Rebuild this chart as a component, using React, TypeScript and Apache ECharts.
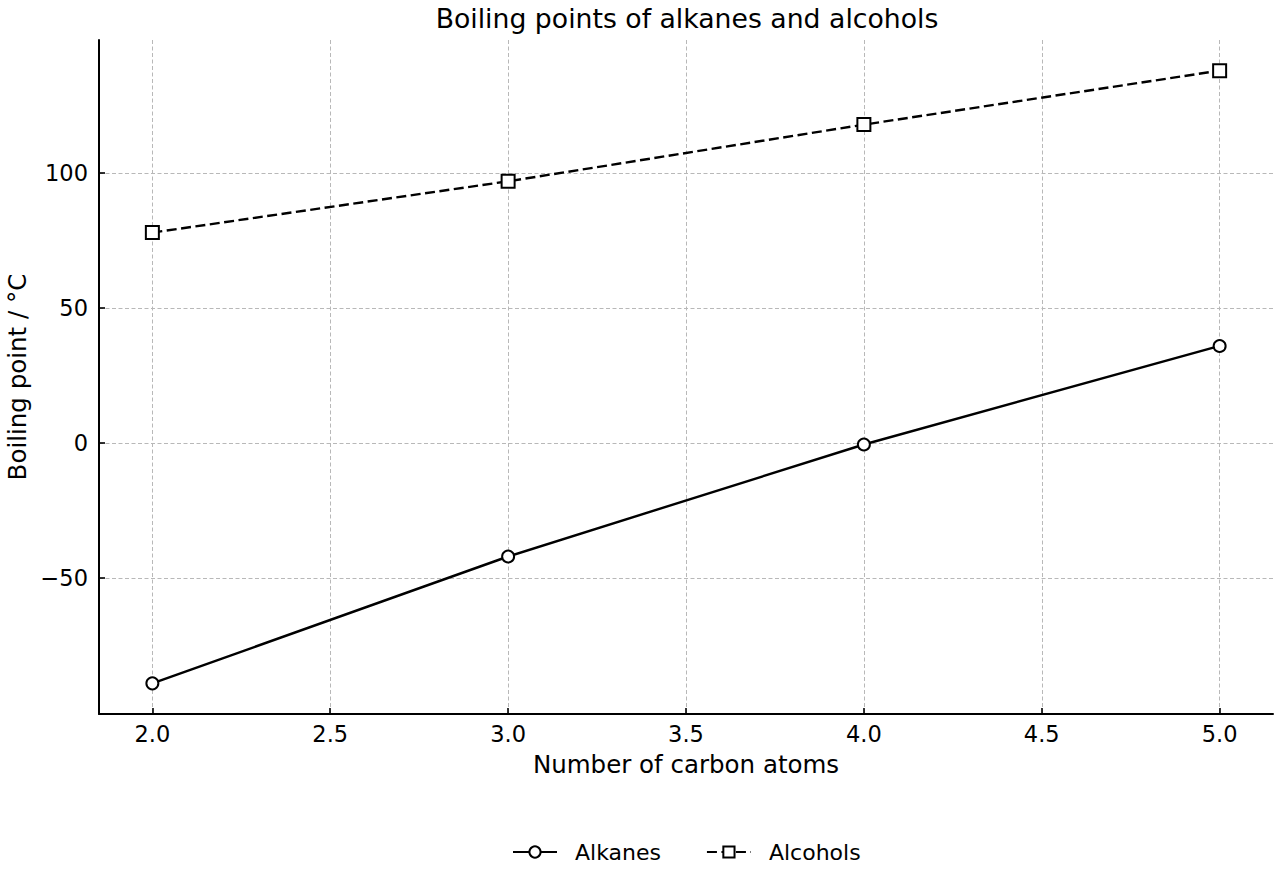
import React, { useEffect, useRef } from "react";
import * as echarts from "echarts";

const carbonAtoms = [2, 3, 4, 5];
const alkanes = [-89, -42, -0.5, 36];
const alcohols = [78, 97, 118, 138];
const xTicks = [2.0, 2.5, 3.0, 3.5, 4.0, 4.5, 5.0];
const yTicks = [-50, 0, 50, 100];

const FONT = "DejaVu Sans";

export default function App() {
  const ref = useRef<HTMLDivElement>(null);
  useEffect(() => {
    if (!ref.current) return;
    const chart = echarts.init(ref.current, null, { renderer: "svg" });
    const axisCommon = {
      axisLine: { show: true, onZero: false, lineStyle: { color: "#000", width: 2 } },
      axisTick: { show: true, inside: true, length: 6, lineStyle: { color: "#000", width: 1.6 } },
      splitLine: { show: true, lineStyle: { color: "#b8b8b8", type: [4, 2.5], width: 1 } },
      nameTextStyle: { fontFamily: FONT, fontSize: 24.5, color: "#000" },
    };
    chart.setOption({
      animation: false,
      backgroundColor: "#fff",
      title: {
        text: "Boiling points of alkanes and alcohols",
        left: 682,
        textAlign: "center",
        top: 0,
        textStyle: { fontFamily: FONT, fontSize: 26.7, fontWeight: "normal", color: "#000" },
      },
      legend: {
        bottom: 12,
        left: 507,
        itemWidth: 44,
        itemHeight: 14,
        itemGap: 45,
        textStyle: { fontFamily: FONT, fontSize: 22, color: "#000", padding: [0, 0, 0, 13] },
        data: ["Alkanes", "Alcohols"],
      },
      grid: { left: 99, right: 7, top: 40, bottom: 166, containLabel: false, outerBoundsMode: "none" },
      xAxis: {
        type: "value",
        min: 1.85,
        max: 5.15,
        name: "Number of carbon atoms",
        nameLocation: "middle",
        nameGap: 38,
        ...axisCommon,
        axisTick: { ...axisCommon.axisTick, customValues: xTicks },
        axisLabel: {
          customValues: xTicks,
          formatter: (v: number) => v.toFixed(1),
          fontFamily: FONT,
          fontSize: 22.5,
          color: "#000",
          margin: 8,
        },
      },
      yAxis: {
        type: "value",
        min: -100.35,
        max: 149.35,
        name: "Boiling point / °C",
        nameLocation: "middle",
        nameGap: 69,
        ...axisCommon,
        axisTick: { ...axisCommon.axisTick, customValues: yTicks },
        axisLabel: {
          customValues: yTicks,
          formatter: (v: number) => (v < 0 ? "\u2212" + Math.abs(v) : String(v)),
          fontFamily: FONT,
          fontSize: 22.5,
          color: "#000",
          margin: 11,
        },
      },
      series: [
        {
          name: "Alkanes",
          type: "line",
          data: carbonAtoms.map((c, i) => [c, alkanes[i]]),
          symbol: "circle",
          symbolSize: 12,
          lineStyle: { color: "#000", width: 2.4 },
          itemStyle: { color: "#fff", borderColor: "#000", borderWidth: 2 },
          z: 3,
        },
        {
          name: "Alcohols",
          type: "line",
          data: carbonAtoms.map((c, i) => [c, alcohols[i]]),
          symbol: "rect",
          symbolSize: 13,
          lineStyle: { color: "#000", width: 2.4, type: [10, 4.5] },
          itemStyle: { color: "#fff", borderColor: "#000", borderWidth: 2 },
          z: 3,
        },
      ],
    });
    return () => chart.dispose();
  }, []);
  return <div ref={ref} style={{ width: 1280, height: 880, position: "absolute", left: 0, top: 0 }} />;
}
